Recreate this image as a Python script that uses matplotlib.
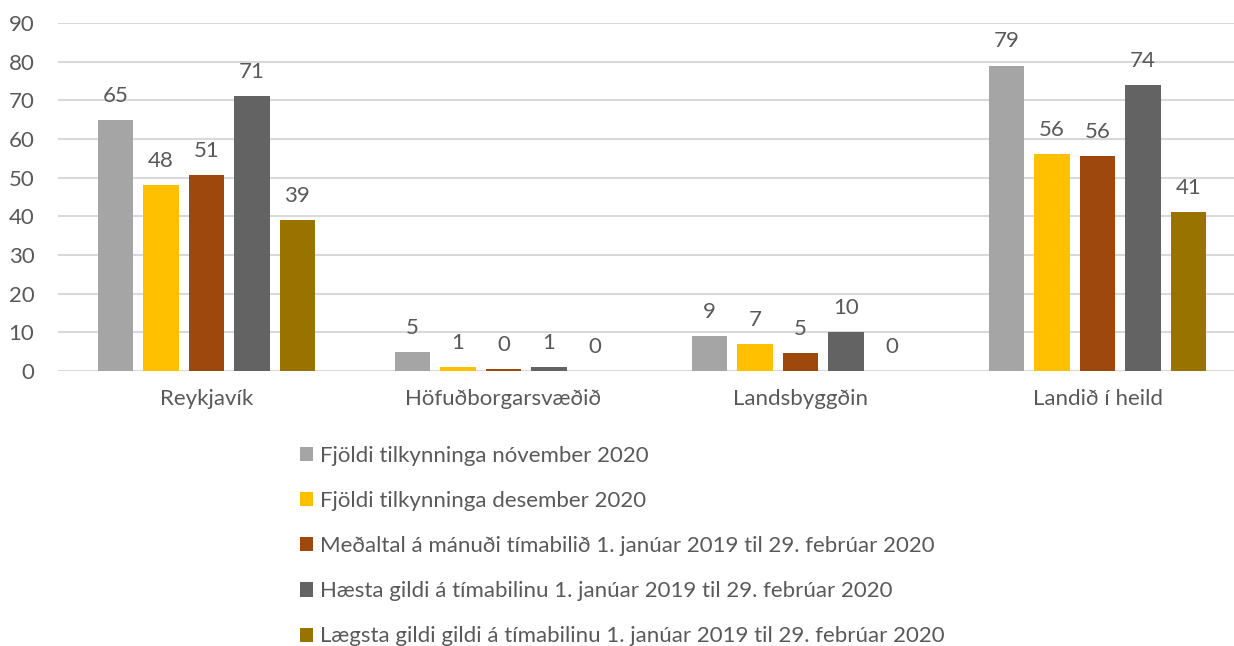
import numpy as np
import matplotlib
matplotlib.use("Agg")
import matplotlib.pyplot as plt

plt.rcParams['font.family'] = ['Lato', 'DejaVu Sans']

categories = ["Reykjavík", "Höfuðborgarsvæðið", "Landsbyggðin", "Landið í heild"]
series_names = [
    "Fjöldi tilkynninga nóvember 2020",
    "Fjöldi tilkynninga desember 2020",
    "Meðaltal á mánuði tímabilið 1. janúar 2019 til 29. febrúar 2020",
    "Hæsta gildi á tímabilinu 1. janúar 2019 til 29. febrúar 2020",
    "Lægsta gildi gildi á tímabilinu 1. janúar 2019 til 29. febrúar 2020",
]
nov_2020 = [65, 5, 9, 79]
des_2020 = [48, 1, 7, 56]
medaltal = [50.7, 0.43, 4.65, 55.7]
haesta = [71, 1, 10, 74]
laegsta = [39, 0, 0, 41]
colors = ["#a5a5a5", "#ffc000", "#9e480e", "#636363", "#997300"]

series = [nov_2020, des_2020, medaltal, haesta, laegsta]
txt = "#595959"
fs = 16

fig = plt.figure(figsize=(12.34, 6.46), dpi=100)
# plot area runs a little past the right edge, like the original
ax = fig.add_axes([58 / 1234, 1 - 371 / 646, 1188 / 1234, 348 / 646])

x = np.arange(len(categories))
width = 0.12
step = 0.153
for i, (vals, name, c) in enumerate(zip(series, series_names, colors)):
    pos = x + (i - 2) * step
    bars = ax.bar(pos, vals, width, color=c, label=name, zorder=3)
    for b, v in zip(bars, vals):
        ax.annotate(f"{v:.0f}", (b.get_x() + b.get_width() / 2, v),
                    xytext=(0, 13), textcoords="offset points",
                    ha="center", va="baseline", fontsize=fs, color=txt)

ax.set_xlim(-0.5, 3.5)
ax.set_ylim(0, 90)
ax.set_yticks(range(0, 91, 10))
ax.set_xticks(x)
ax.set_xticklabels(categories)
ax.grid(axis="y", color="#d9d9d9", linewidth=1.5, zorder=0)
ax.tick_params(axis="both", length=0, labelsize=fs, labelcolor=txt)
ax.tick_params(axis="y", pad=17)
ax.tick_params(axis="x", pad=13)
for s in ax.spines.values():
    s.set_visible(False)

fig.legend(loc="upper left", bbox_to_anchor=(300 / 1234, 1 - 446 / 646),
           frameon=False, fontsize=fs, labelcolor=txt, ncol=1,
           borderpad=0, borderaxespad=0, handlelength=0.59, handleheight=0.6,
           handletextpad=0.32, labelspacing=1.13)

fig.savefig("out.png", dpi=100)
